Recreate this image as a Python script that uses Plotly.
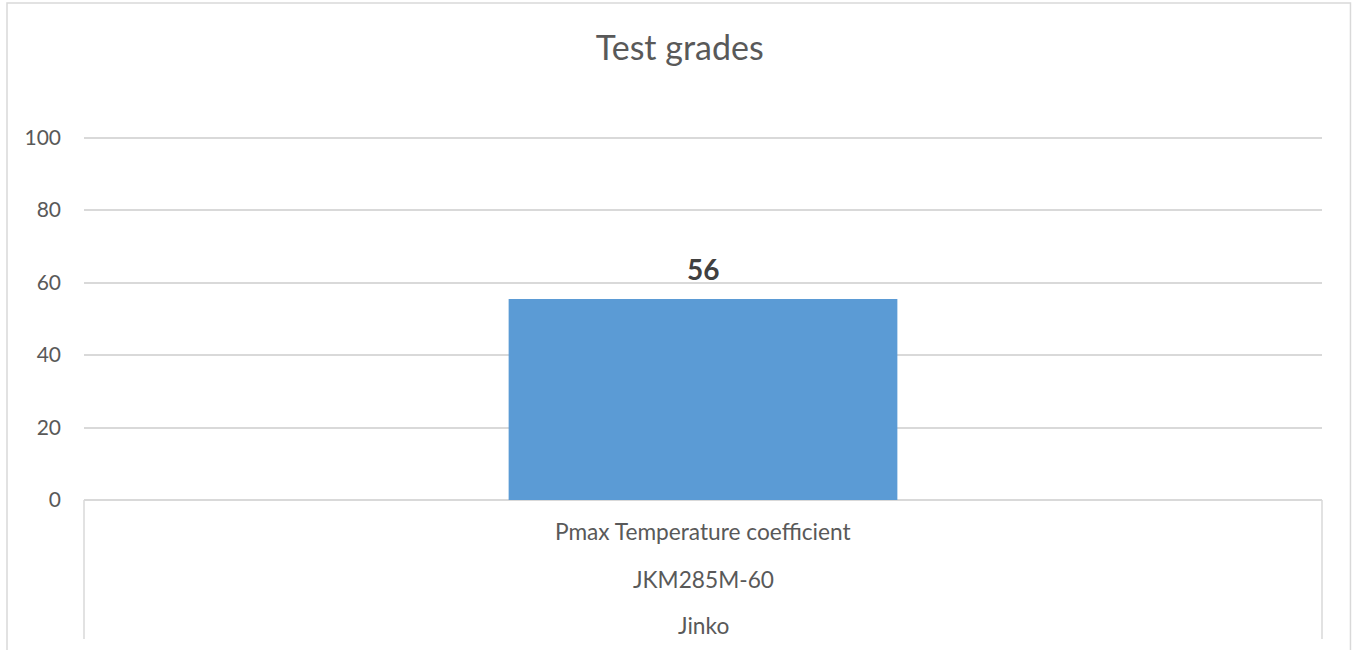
import plotly.graph_objects as go

# Data
categories = ["Pmax Temperature coefficient"]
models = ["JKM285M-60"]
brands = ["Jinko"]
grades = [55.5]
title_text = "Test grades"
y_ticks = [0, 20, 40, 60, 80, 100]

FONT = "Lato"
TXT = "#595959"
GRID = "#d9d9d9"

fig = go.Figure()
fig.add_trace(go.Bar(
    x=categories, y=grades, width=0.314,
    marker=dict(color="#5B9BD5", line=dict(width=0)),
    hoverinfo="skip",
))

# data labels
for c, v in zip(categories, grades):
    fig.add_annotation(x=c, y=v, xref="x", yref="y", text=f"<b>{v:.0f}</b>",
                       showarrow=False, yanchor="bottom", yshift=11,
                       font=dict(family=FONT, size=28, color="#404040"))

# category labels (three levels)
levels = [(categories, -0.0847), (models, -0.216), (brands, -0.344)]
for labels, ypos in levels:
    for lab in labels:
        fig.add_annotation(x=lab, y=ypos, xref="x", yref="paper", text=lab,
                           showarrow=False, yanchor="middle",
                           font=dict(family=FONT, size=22.7, color=TXT))

shapes = [
    # category box sides
    dict(type="line", xref="paper", yref="paper", x0=0, x1=0, y0=0, y1=-0.38,
         line=dict(color=GRID, width=1.5)),
    dict(type="line", xref="paper", yref="paper", x0=1, x1=1, y0=0, y1=-0.38,
         line=dict(color=GRID, width=1.5)),
    # outer chart border
    dict(type="rect", xref="paper", yref="paper", x0=-0.0622, x1=1.023,
         y0=-0.45, y1=1.358, line=dict(color=GRID, width=1.5)),
]

fig.update_layout(
    width=1354, height=650,
    margin=dict(l=84, r=32, t=134, b=150),
    paper_bgcolor="white", plot_bgcolor="white",
    showlegend=False,
    title=dict(text=title_text, x=0.502, xanchor="center", y=0.926, yanchor="middle",
               font=dict(family=FONT, size=34, color=TXT)),
    xaxis=dict(showticklabels=False, showgrid=False, zeroline=False,
               showline=False, range=[-0.5, 0.5], fixedrange=True),
    yaxis=dict(range=[0, 101], tickvals=y_ticks, showgrid=True, gridcolor=GRID,
               gridwidth=1.5, zeroline=True, zerolinecolor=GRID, zerolinewidth=1.5,
               showline=False, ticks="", ticklabelstandoff=22,
               tickfont=dict(family=FONT, size=21, color=TXT), fixedrange=True),
    shapes=shapes,
    font=dict(family=FONT, color=TXT),
)

fig.write_html("out.html", config={"displayModeBar": False},
               post_script="document.body.style.margin='0';document.body.style.overflow='hidden';")
